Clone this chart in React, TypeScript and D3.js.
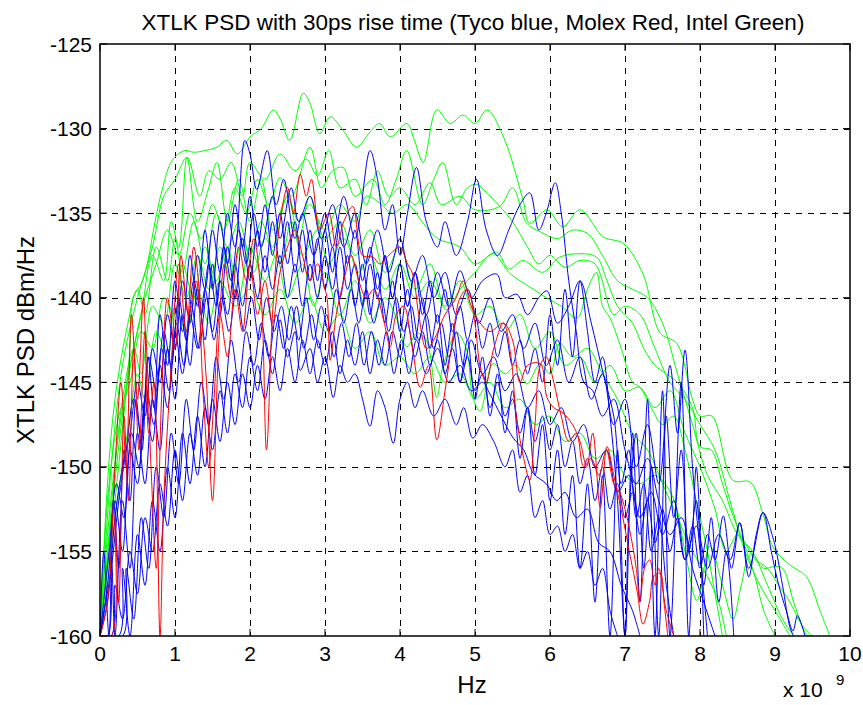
import React from "react";
import * as d3 from "d3";

const TITLE = "XTLK PSD with 30ps rise time (Tyco blue, Molex Red, Intel Green)";
const X_LABEL = "Hz";
const Y_LABEL = "XTLK PSD dBm/Hz";
const X_TICKS = [0, 1, 2, 3, 4, 5, 6, 7, 8, 9, 10];
const Y_TICKS = [-160, -155, -150, -145, -140, -135, -130, -125];

type P = [number, number];

// Intel (green)
const green1: P[] = [[0,-160],[0.2,-152],[0.4,-143],[0.44,-140],[0.56,-139.1],[0.64,-137.8],[0.73,-135.6],[0.83,-133.6],[0.96,-131.9],[1.13,-131.3],[1.25,-131.4],[1.4,-131.3],[1.56,-131.1],[1.69,-130.7],[1.83,-131.5],[2.0,-130.5],[2.15,-130.0],[2.31,-128.9],[2.4,-129.4],[2.53,-130.7],[2.71,-127.9],[2.8,-128.5],[2.93,-130.3],[3.07,-129.3],[3.24,-130.1],[3.42,-131.1],[3.6,-130.2],[3.73,-129.7],[3.87,-130.5],[4.09,-129.7],[4.2,-130.8],[4.31,-132.0],[4.49,-128.9],[4.67,-129.7],[4.84,-129.2],[5.0,-129.7],[5.16,-128.9],[5.38,-130.5],[5.64,-134.2],[5.73,-135.6],[5.96,-134.8],[6.17,-135.8],[6.4,-134.8],[6.71,-136.4],[6.98,-136.8],[7.24,-138.6],[7.47,-142.1],[7.69,-142.7],[7.9,-146],[8.0,-147],[8.16,-147],[8.44,-150.8],[8.67,-150.9],[8.84,-152.8],[8.98,-154.8],[9.2,-155.8],[9.42,-156.5],[9.6,-158.5],[9.73,-160]];
const green2: P[] = [[0,-160],[0.15,-150],[0.3,-144],[0.5,-140],[0.7,-137],[0.85,-134],[1.0,-133],[1.16,-131.7],[1.33,-134],[1.45,-132.5],[1.6,-133],[1.75,-132],[1.9,-134],[2.0,-132],[2.2,-133],[2.4,-131.5],[2.6,-132.5],[2.75,-131.8],[2.9,-132.8],[3.05,-131.3],[3.2,-133.5],[3.4,-133],[3.55,-134.5],[3.7,-132.5],[3.85,-134],[4.0,-133.5],[4.2,-134.5],[4.4,-133.2],[4.55,-134.5],[4.8,-134],[5.0,-134.8],[5.33,-134.6],[5.5,-133.5],[5.69,-135.6],[5.87,-136.1],[6.1,-136.5],[6.3,-136],[6.5,-136.2],[6.7,-137.5],[6.9,-139],[7.1,-139.5],[7.3,-140],[7.5,-141.5],[7.7,-144.5],[7.9,-147.5],[8.1,-150.5],[8.3,-152],[8.5,-154],[8.7,-155],[8.9,-157],[9.1,-159],[9.25,-160]];
const green3: P[] = [[0,-160],[0.1,-152],[0.25,-147],[0.4,-145],[0.55,-142],[0.7,-143],[0.85,-140],[1.0,-141],[1.1,-138],[1.25,-140],[1.4,-137],[1.55,-139],[1.7,-137],[1.85,-140],[2.0,-137],[2.2,-139],[2.35,-137.5],[2.5,-140],[2.7,-138],[2.85,-140.5],[3.0,-138.5],[3.2,-141],[3.4,-139],[3.6,-141.5],[3.8,-140],[3.96,-141.3],[4.09,-142.9],[4.23,-142.1],[4.35,-142.5],[4.49,-145.9],[4.57,-144.1],[4.76,-142.1],[4.89,-143.1],[4.97,-145.9],[5.07,-146.7],[5.24,-143.9],[5.4,-144.5],[5.55,-144],[5.69,-145.1],[5.87,-143.9],[6.0,-144.5],[6.13,-142.7],[6.3,-143.5],[6.5,-143],[6.7,-144.5],[6.9,-146],[7.1,-148],[7.3,-149],[7.5,-151],[7.7,-153],[7.9,-155],[8.1,-156.5],[8.25,-158],[8.35,-160]];
const green4: P[] = [[0,-160],[0.15,-153],[0.3,-147],[0.45,-143],[0.6,-140],[0.75,-138],[0.9,-136],[1.05,-137.5],[1.2,-135],[1.35,-136.5],[1.5,-134.5],[1.65,-136],[1.8,-133.5],[1.95,-135],[2.1,-133],[2.25,-134.5],[2.4,-132.9],[2.55,-134],[2.8,-131.1],[2.95,-133.5],[3.1,-132.5],[3.24,-132.3],[3.4,-134],[3.64,-133],[3.8,-134.5],[3.95,-133],[4.09,-131.3],[4.3,-134.5],[4.45,-133],[4.57,-132],[4.75,-134.5],[4.9,-133.5],[5.02,-133.3],[5.2,-134],[5.33,-134.6],[5.5,-135.5],[5.7,-137],[5.85,-138],[6.0,-137.5],[6.2,-138.2],[6.4,-137.8],[6.6,-138],[6.85,-141],[7.0,-140.5],[7.2,-141],[7.4,-143],[7.6,-145],[7.8,-146],[8.0,-147.5],[8.2,-149],[8.4,-152],[8.6,-155],[8.8,-157],[9.0,-158.5],[9.2,-160]];
const green5: P[] = [[0,-160],[0.1,-154],[0.25,-148],[0.4,-144],[0.55,-141],[0.7,-137.5],[0.85,-139],[0.95,-135.5],[1.05,-137],[1.16,-131.7],[1.3,-135.5],[1.45,-133.5],[1.56,-132],[1.7,-135.5],[1.85,-133],[2.0,-135.5],[2.15,-133],[2.3,-136],[2.5,-134],[2.65,-136.5],[2.8,-134],[3.0,-136.5],[3.2,-135.5],[3.4,-137.5],[3.6,-136],[3.8,-138.5],[4.0,-137],[4.2,-139.5],[4.4,-138],[4.6,-140.5],[4.8,-139],[5.0,-141],[5.2,-140.5],[5.4,-142],[5.6,-141],[5.8,-143],[6.0,-142],[6.2,-144],[6.4,-143.5],[6.6,-145],[6.8,-144],[7.0,-145.5],[7.2,-145.3],[7.4,-146.5],[7.6,-145.5],[7.8,-148],[8.0,-150],[8.2,-152.5],[8.35,-155],[8.5,-154],[8.7,-156],[8.85,-158.5],[9.0,-160]];
const green6: P[] = [[0,-160],[0.1,-151],[0.2,-146],[0.35,-142],[0.5,-139.5],[0.6,-141],[0.75,-137],[0.9,-139],[1.0,-136.5],[1.1,-138.5],[1.25,-135.5],[1.4,-138],[1.55,-135],[1.7,-137],[1.85,-135.5],[2.0,-137.5],[2.15,-135.5],[2.3,-137],[2.5,-134],[2.65,-135.5],[2.8,-134.5],[3.0,-136],[3.2,-134.5],[3.4,-135.5],[3.55,-134],[3.73,-134.4],[3.9,-135],[4.1,-134.5],[4.31,-135.6],[4.5,-136.5],[4.8,-137],[5.0,-138],[5.29,-137.3],[5.45,-138.3],[5.64,-137.8],[5.9,-138.5],[6.13,-137.6],[6.4,-137.4],[6.62,-137.6],[6.76,-139],[6.9,-140.5],[7.1,-141.5],[7.25,-143],[7.4,-144],[7.55,-144.5],[7.7,-145],[7.9,-146.5],[8.0,-148.8],[8.15,-149],[8.3,-151],[8.45,-153],[8.6,-154.5],[8.75,-155.5],[8.9,-156],[9.05,-157],[9.2,-158],[9.35,-159.3],[9.5,-160]];
const green7: P[] = [[0,-160],[0.1,-155],[0.2,-150],[0.3,-146],[0.45,-143],[0.55,-144.5],[0.7,-140.5],[0.85,-141.5],[1.0,-138],[1.15,-140],[1.3,-137.5],[1.45,-139.5],[1.6,-137],[1.75,-139],[1.9,-136.5],[2.05,-138.5],[2.2,-136.5],[2.4,-138],[2.55,-135.5],[2.7,-137.5],[2.9,-136],[3.05,-138],[3.25,-136.5],[3.45,-138.5],[3.6,-137.5],[3.8,-139.5],[4.0,-138],[4.2,-140],[4.4,-139],[4.62,-140.7],[4.8,-139.5],[5.0,-138.5],[5.24,-137.4],[5.45,-138.5],[5.6,-139],[5.78,-139.5],[5.95,-140],[6.15,-140.5],[6.36,-141.2],[6.5,-139.5],[6.62,-138.5],[6.7,-140.5],[6.8,-141.2],[6.95,-143],[7.1,-145],[7.2,-145.3],[7.35,-146.5],[7.5,-147.5],[7.65,-147],[7.8,-149],[7.95,-152],[8.1,-155],[8.2,-157.5],[8.3,-160]];
const green8: P[] = [[0,-160],[0.1,-157],[0.2,-153],[0.3,-150],[0.4,-147],[0.5,-144.5],[0.6,-146],[0.75,-142],[0.9,-143.5],[1.0,-140.5],[1.15,-142],[1.3,-139.5],[1.45,-141.5],[1.6,-139],[1.8,-140.5],[2.0,-139.5],[2.2,-141],[2.4,-139.5],[2.6,-141.5],[2.8,-140],[3.0,-142],[3.2,-141],[3.4,-143],[3.6,-142],[3.8,-144],[4.0,-143.5],[4.2,-144.5],[4.4,-143.5],[4.6,-145],[4.8,-144.5],[5.0,-146],[5.2,-145],[5.4,-146.5],[5.6,-146],[5.8,-147.5],[6.0,-147],[6.2,-148.5],[6.4,-148],[6.6,-149.5],[6.8,-149],[7.0,-150.5],[7.2,-151],[7.4,-150.5],[7.64,-151.8],[7.8,-155],[7.96,-157.9],[8.13,-154.7],[8.3,-157],[8.44,-159],[8.55,-157],[8.67,-155.2],[8.85,-156],[8.98,-155.9],[9.1,-156],[9.25,-158],[9.42,-159.9],[9.5,-160]];

// Tyco (blue)
const blue1: P[] = [[0,-160],[0.1,-158],[0.2,-153],[0.3,-150],[0.4,-148],[0.5,-145],[0.6,-147],[0.7,-143],[0.8,-145],[0.9,-141],[1.0,-143],[1.1,-139],[1.2,-141.5],[1.3,-137.5],[1.4,-139.5],[1.5,-136],[1.6,-138.5],[1.7,-135],[1.8,-137],[1.93,-130.7],[2.0,-131.5],[2.09,-133.6],[2.23,-131.3],[2.35,-134.5],[2.45,-133],[2.6,-136.5],[2.7,-135],[2.85,-137.5],[3.0,-135],[3.1,-137],[3.25,-134],[3.4,-136.5],[3.6,-131.3],[3.7,-133],[3.8,-136],[3.9,-134.5],[4.0,-137.5],[4.1,-135],[4.22,-132.3],[4.35,-135.5],[4.5,-137],[4.6,-135.5],[4.75,-137.5],[4.9,-135.5],[5.02,-133],[5.15,-136],[5.3,-137.5],[5.45,-136],[5.6,-134.5],[5.73,-133.8],[5.85,-136],[5.95,-135],[6.07,-133.2],[6.15,-135],[6.25,-139],[6.35,-142],[6.45,-145],[6.57,-145.5],[6.7,-147],[6.85,-146],[7.0,-149],[7.15,-151],[7.3,-149.5],[7.45,-152],[7.6,-154],[7.75,-153],[7.9,-156],[8.05,-158],[8.2,-160]];
const blue2: P[] = [[0,-160],[0.15,-156],[0.25,-152],[0.35,-149],[0.45,-146],[0.55,-148],[0.65,-143.5],[0.75,-145.5],[0.85,-142],[0.95,-144],[1.05,-140],[1.15,-142.5],[1.25,-139],[1.35,-141],[1.45,-138],[1.55,-140.5],[1.65,-137],[1.75,-139],[1.85,-136],[1.95,-138],[2.05,-135],[2.15,-137],[2.3,-134],[2.4,-136.5],[2.55,-133.5],[2.65,-135.5],[2.8,-134],[2.95,-136.5],[3.1,-134.5],[3.25,-137],[3.4,-135],[3.55,-138],[3.7,-136],[3.85,-138.5],[4.0,-136.5],[4.15,-139],[4.3,-137.5],[4.45,-140],[4.6,-138.5],[4.75,-141],[4.9,-139.5],[5.05,-141.5],[5.2,-140],[5.35,-142],[5.5,-141],[5.65,-143],[5.8,-141.5],[5.95,-144],[6.1,-142.5],[6.25,-145],[6.4,-143.5],[6.55,-146],[6.7,-144.5],[6.85,-147.5],[7.0,-146],[7.15,-150],[7.3,-147.5],[7.45,-151],[7.6,-144],[7.7,-148],[7.8,-143.1],[7.9,-150],[8.0,-155],[8.1,-160]];
const blue3: P[] = [[0,-160],[0.1,-157],[0.2,-152],[0.3,-155],[0.4,-149],[0.5,-151],[0.6,-146],[0.7,-148.5],[0.8,-144],[0.9,-146.5],[1.0,-142],[1.1,-144.5],[1.2,-141],[1.3,-143],[1.4,-139.5],[1.5,-142],[1.6,-139],[1.7,-141],[1.8,-138],[1.9,-140.5],[2.0,-138],[2.1,-140],[2.2,-137.5],[2.3,-139.5],[2.4,-137.5],[2.5,-140],[2.6,-138],[2.7,-140.5],[2.8,-138],[2.9,-140],[3.0,-137.5],[3.1,-139.5],[3.2,-137],[3.3,-139.5],[3.4,-138],[3.5,-140.5],[3.6,-138],[3.7,-140],[3.8,-137.5],[3.9,-140],[4.0,-138],[4.1,-140.5],[4.2,-138.5],[4.35,-141],[4.5,-138.5],[4.65,-140.5],[4.8,-138.4],[4.95,-140],[5.1,-139],[5.29,-138.6],[5.4,-140],[5.56,-139.8],[5.7,-141],[5.85,-140],[5.96,-139.6],[6.1,-141.5],[6.25,-140.5],[6.4,-139],[6.55,-141.5],[6.71,-144.5],[6.85,-147],[6.95,-151],[7.05,-149],[7.15,-153],[7.25,-151],[7.35,-155],[7.45,-153],[7.55,-157],[7.65,-160]];
const blue4: P[] = [[0,-160],[0.15,-160],[0.2,-157],[0.3,-159],[0.4,-155],[0.5,-157.5],[0.6,-153],[0.7,-155],[0.8,-151],[0.9,-153.5],[1.0,-149],[1.1,-152],[1.2,-148],[1.3,-150.5],[1.4,-146.5],[1.5,-149],[1.6,-145.5],[1.7,-148],[1.8,-144.5],[1.9,-146.5],[2.0,-143.5],[2.1,-145.5],[2.2,-142.5],[2.3,-144.5],[2.4,-141.3],[2.5,-143.5],[2.6,-142],[2.67,-144.3],[2.8,-143],[2.9,-145],[3.0,-143.5],[3.11,-145.9],[3.2,-144],[3.3,-145],[3.4,-144.5],[3.5,-146],[3.6,-147.6],[3.7,-145.5],[3.8,-146.5],[3.91,-148.6],[4.0,-146],[4.1,-145],[4.2,-146.5],[4.3,-145.5],[4.45,-147],[4.6,-146],[4.75,-147.5],[4.85,-146.5],[4.97,-148.3],[5.1,-147.5],[5.25,-148.5],[5.4,-150],[5.5,-149],[5.6,-151.5],[5.7,-150.5],[5.8,-153],[5.9,-152],[6.0,-154],[6.1,-153.5],[6.2,-155],[6.3,-154],[6.4,-156],[6.5,-155],[6.6,-157],[6.7,-156],[6.8,-158.5],[6.9,-160]];
const blue5: P[] = [[0,-160],[0.12,-155],[0.22,-151],[0.32,-153],[0.42,-148],[0.52,-150],[0.62,-145.5],[0.72,-147.5],[0.82,-143],[0.92,-145.5],[1.02,-141.5],[1.12,-144],[1.22,-140.5],[1.32,-143],[1.42,-140],[1.52,-142.5],[1.62,-140],[1.72,-142],[1.82,-139.5],[1.92,-142],[2.02,-140],[2.12,-142.5],[2.22,-140],[2.32,-142],[2.42,-140.5],[2.52,-142.5],[2.62,-140.5],[2.72,-143],[2.82,-141],[2.92,-143],[3.02,-141],[3.12,-143.5],[3.22,-141.5],[3.32,-143.5],[3.42,-141.5],[3.52,-144],[3.62,-142],[3.72,-144],[3.82,-142],[3.92,-144.5],[4.02,-142.5],[4.12,-144.5],[4.22,-142.5],[4.35,-144.5],[4.5,-143],[4.65,-145],[4.8,-144],[4.95,-145.5],[5.1,-145],[5.2,-145.7],[5.35,-147],[5.51,-148.3],[5.65,-149],[5.78,-150.4],[5.95,-151],[6.09,-152],[6.2,-151.5],[6.35,-153],[6.5,-152.5],[6.65,-154.5],[6.8,-155],[6.95,-157],[7.1,-158.5],[7.2,-160]];
const blue6: P[] = [[0,-160],[0.3,-160],[0.35,-156],[0.45,-159],[0.55,-153],[0.65,-156],[0.75,-150],[0.85,-153],[0.95,-148],[1.05,-151],[1.15,-146],[1.25,-149],[1.35,-145],[1.45,-147.5],[1.55,-143.5],[1.65,-146],[1.75,-142.5],[1.85,-145],[1.95,-142],[2.05,-144],[2.15,-141.5],[2.25,-143.5],[2.35,-141],[2.45,-143],[2.55,-140.5],[2.65,-142.5],[2.75,-140],[2.85,-142.5],[2.95,-140.5],[3.05,-142],[3.15,-139.5],[3.25,-141.5],[3.35,-139.5],[3.45,-141.5],[3.55,-139.5],[3.65,-141.5],[3.75,-140],[3.85,-142],[3.95,-140],[4.05,-142],[4.15,-140.5],[4.25,-142.5],[4.35,-141],[4.45,-143],[4.55,-141.5],[4.65,-143.5],[4.75,-142],[4.85,-144],[4.95,-142.5],[5.1,-144.5],[5.25,-143.5],[5.4,-145.5],[5.55,-144.5],[5.7,-146.5],[5.85,-145.5],[6.0,-147.5],[6.15,-146.5],[6.3,-148.5],[6.45,-147.5],[6.6,-150],[6.75,-149],[6.9,-151.5],[7.05,-150.5],[7.2,-153],[7.35,-151.5],[7.5,-154],[7.65,-152],[7.8,-155.5],[7.95,-153.5],[8.1,-156],[8.25,-154],[8.4,-155.5],[8.53,-153.3],[8.65,-156],[8.84,-152.7],[8.95,-155],[9.05,-157],[9.15,-158.5],[9.24,-159.7],[9.3,-158.8],[9.4,-160]];
const blue7: P[] = [[0,-160],[0.1,-160],[0.15,-155],[0.2,-160],[0.3,-152],[0.4,-156],[0.5,-148],[0.6,-151],[0.7,-146],[0.8,-149],[0.9,-143],[1.0,-146],[1.1,-141],[1.2,-144],[1.3,-139.5],[1.4,-142.5],[1.5,-138],[1.6,-141],[1.7,-137],[1.8,-140],[1.9,-136.5],[2.0,-139],[2.1,-136],[2.2,-138.5],[2.3,-135.5],[2.4,-138],[2.5,-135.5],[2.6,-138.5],[2.7,-136],[2.8,-139],[2.9,-136.5],[3.0,-139.5],[3.1,-137],[3.2,-140],[3.3,-137.5],[3.4,-140.5],[3.5,-138],[3.6,-141],[3.7,-138.5],[3.8,-141.5],[3.9,-139],[4.0,-142],[4.1,-139.5],[4.2,-142.5],[4.3,-140],[4.4,-143],[4.5,-141],[4.6,-144],[4.7,-141.5],[4.8,-145],[4.9,-142.5],[5.0,-146],[5.1,-143.5],[5.2,-147],[5.3,-144.5],[5.4,-148],[5.5,-145.5],[5.6,-149.5],[5.7,-146.5],[5.8,-150.5],[5.9,-147.5],[6.0,-152],[6.1,-149],[6.2,-154],[6.3,-150.5],[6.4,-156],[6.5,-151],[6.6,-158],[6.7,-150.5],[6.8,-160],[6.9,-149],[7.0,-160],[7.1,-148],[7.2,-158],[7.3,-146],[7.4,-160],[7.5,-145.5],[7.6,-160],[7.75,-145],[7.85,-160],[7.95,-150],[8.05,-160]];
const blue8: P[] = [[0,-160],[0.05,-155],[0.12,-160],[0.18,-152],[0.25,-156],[0.32,-149],[0.4,-152],[0.48,-146],[0.56,-149],[0.64,-143.5],[0.72,-146.5],[0.8,-141],[0.9,-144],[1.0,-139],[1.1,-142],[1.2,-137.5],[1.3,-140.5],[1.4,-136],[1.5,-139.5],[1.6,-135.5],[1.7,-138],[1.8,-134.5],[1.9,-137],[2.0,-134],[2.1,-137],[2.2,-134.5],[2.3,-137.5],[2.4,-135],[2.5,-138],[2.6,-135.5],[2.7,-138.5],[2.8,-136],[2.9,-139],[3.0,-136],[3.1,-138.5],[3.2,-135.5],[3.3,-138],[3.4,-136],[3.5,-139],[3.6,-137],[3.7,-139.5],[3.8,-137.5],[3.9,-140],[4.0,-138],[4.1,-140.5],[4.2,-138.5],[4.3,-141],[4.4,-139],[4.5,-141.5],[4.6,-139.5],[4.7,-142],[4.8,-140.5],[4.9,-142.5],[5.0,-141],[5.1,-143],[5.2,-141.5],[5.3,-143.5],[5.4,-142],[5.5,-144],[5.6,-142.5],[5.7,-144.5],[5.8,-143],[5.9,-145],[6.0,-141],[6.1,-144],[6.2,-139.5],[6.3,-143.5],[6.4,-139],[6.5,-142],[6.6,-145],[6.7,-143.5],[6.8,-147],[6.9,-152],[7.0,-160],[7.05,-153],[7.15,-148],[7.25,-156],[7.35,-150],[7.45,-160],[7.55,-147],[7.65,-153],[7.75,-149],[7.85,-155],[7.95,-152],[8.05,-157],[8.15,-153],[8.25,-158],[8.35,-155],[8.45,-160]];
const blue9: P[] = [[0,-160],[0.25,-160],[0.3,-156],[0.4,-160],[0.5,-154],[0.6,-157],[0.7,-152],[0.8,-155],[0.9,-150],[1.0,-153],[1.1,-148],[1.2,-151],[1.3,-147],[1.4,-150],[1.5,-146],[1.6,-148.5],[1.7,-145],[1.8,-147.5],[1.9,-144.5],[2.0,-146.5],[2.1,-144],[2.2,-146],[2.3,-143.5],[2.4,-145.5],[2.5,-143],[2.6,-145],[2.7,-142.5],[2.8,-144.5],[2.9,-142.5],[3.0,-144],[3.1,-142],[3.2,-144.5],[3.3,-142.5],[3.4,-144],[3.5,-142],[3.6,-144.5],[3.7,-142.5],[3.8,-144],[3.9,-142],[4.0,-143.5],[4.1,-141.5],[4.2,-143.5],[4.3,-142],[4.4,-144],[4.5,-142.5],[4.6,-144.5],[4.7,-143],[4.8,-145],[4.9,-143.5],[5.0,-145.5],[5.1,-144.5],[5.2,-146.5],[5.3,-145],[5.4,-147],[5.5,-146],[5.6,-148],[5.7,-146.5],[5.8,-148.5],[5.9,-147],[6.0,-149],[6.1,-147.5],[6.2,-150],[6.3,-148.5],[6.4,-151],[6.5,-149.5],[6.6,-152],[6.7,-150],[6.8,-152.5],[6.9,-151],[7.0,-153],[7.1,-151.5],[7.2,-154],[7.3,-152],[7.4,-154.5],[7.5,-152.5],[7.6,-155],[7.7,-153],[7.8,-155.5],[7.9,-153.5],[8.0,-156],[8.1,-154],[8.2,-155.5],[8.31,-152.9],[8.42,-156],[8.53,-153.3],[8.65,-156.5],[8.75,-154],[8.84,-152.7],[8.98,-154.3],[9.1,-157],[9.2,-159.5],[9.25,-160]];

// Molex (red)
const red1: P[] = [[0,-160],[0.1,-158],[0.2,-150],[0.28,-145],[0.35,-150],[0.42,-141],[0.5,-146],[0.58,-140],[0.65,-148],[0.72,-145],[0.8,-160],[0.85,-152],[0.95,-144],[1.05,-138],[1.15,-142],[1.25,-137],[1.35,-141],[1.42,-145],[1.5,-152],[1.58,-143],[1.66,-138],[1.75,-140],[1.85,-137],[1.95,-139],[2.05,-136.5],[2.15,-140],[2.22,-149],[2.3,-141],[2.4,-135.5],[2.5,-133.5],[2.58,-135],[2.67,-132.7],[2.75,-134],[2.82,-133],[2.93,-136],[3.05,-135],[3.15,-137],[3.25,-135.5],[3.37,-134.6],[3.5,-137.5],[3.64,-137.6],[3.73,-138],[3.85,-137.5],[4.0,-137],[4.1,-138],[4.17,-138.6],[4.25,-141],[4.35,-143],[4.45,-142.5],[4.6,-141],[4.75,-140],[4.84,-139],[4.95,-140.5],[5.07,-141.5],[5.2,-142],[5.38,-141.5],[5.5,-142.5],[5.6,-145],[5.7,-144],[5.87,-143.9],[5.96,-145.9],[6.05,-146.5],[6.17,-146.8],[6.3,-147.5],[6.4,-148.5],[6.49,-150],[6.57,-148],[6.67,-152.4],[6.76,-148.8],[6.85,-150.5],[6.98,-153.2],[7.07,-155.3],[7.16,-157.3],[7.24,-159.3],[7.33,-157.9],[7.38,-156.5],[7.47,-156.3],[7.52,-158],[7.57,-160]];
const red2: P[] = [[0,-160],[0.15,-160],[0.2,-153],[0.25,-158],[0.32,-147],[0.38,-152],[0.45,-143],[0.52,-149],[0.6,-142],[0.68,-150],[0.75,-156],[0.82,-146],[0.9,-140],[1.0,-143],[1.08,-137.5],[1.18,-141],[1.28,-139],[1.38,-146],[1.45,-150],[1.52,-146],[1.6,-141],[1.7,-143.5],[1.8,-139.5],[1.9,-142],[2.0,-138],[2.1,-141],[2.2,-139],[2.3,-141.5],[2.4,-138.5],[2.5,-137],[2.6,-136],[2.7,-137.5],[2.8,-139],[2.9,-138],[3.0,-139.5],[3.03,-140.1],[3.07,-143.7],[3.15,-141],[3.25,-139],[3.35,-137.5],[3.45,-139],[3.55,-140],[3.65,-139.5],[3.78,-141.3],[3.87,-142.9],[3.95,-141],[4.05,-140.5],[4.15,-142.5],[4.27,-145.3],[4.38,-144],[4.49,-148.4],[4.6,-145.5],[4.7,-142.5],[4.8,-140],[4.9,-139.5],[5.0,-141.5],[5.07,-144.1],[5.15,-145],[5.25,-143],[5.38,-141.5],[5.48,-143.5],[5.55,-147],[5.65,-149.5],[5.73,-150.8],[5.8,-147.5],[5.87,-144],[5.95,-143.5],[6.05,-145],[6.15,-147],[6.25,-148.5],[6.35,-148],[6.45,-150],[6.55,-149.5],[6.65,-150.5],[6.75,-149],[6.85,-151],[6.93,-151.5],[7.0,-152.5],[7.07,-153.9],[7.15,-156],[7.2,-157.9],[7.26,-156],[7.33,-155.5],[7.4,-157],[7.45,-156],[7.55,-158.5],[7.65,-160]];

const GREENS = [green1, green2, green3, green4, green5, green6, green7, green8];
const BLUES = [blue1, blue2, blue3, blue4, blue5, blue6, blue7, blue8, blue9];
const REDS = [red1, red2];

const W = 863, H = 705;
const L = 100, R = 850, T = 44, B = 636;
const FONT = "'Liberation Sans', Arial, sans-serif";

export default function App() {
  const x = d3.scaleLinear().domain([0, 10]).range([L, R]);
  const y = d3.scaleLinear().domain([-160, -125]).range([B, T]);
  const line = d3.line<P>().x(d => x(d[0])).y(d => y(d[1])).curve(d3.curveCatmullRom.alpha(0.5));
  const tick = 7;
  return (
    <svg width={W} height={H} style={{ position: "absolute", left: 0, top: 0, background: "#fff" }} fontFamily={FONT}>
      <defs>
        <clipPath id="plot"><rect x={L} y={T} width={R - L} height={B - T} /></clipPath>
      </defs>
      <rect x={0} y={0} width={W} height={H} fill="#fff" />
      <g stroke="#000" strokeWidth={1} strokeDasharray="6,6">
        {X_TICKS.slice(1, -1).map(t => <line key={"gx" + t} x1={Math.round(x(t)) + 0.5} x2={Math.round(x(t)) + 0.5} y1={T} y2={B} />)}
        {Y_TICKS.slice(1, -1).map(t => <line key={"gy" + t} x1={L} x2={R} y1={Math.round(y(t)) + 0.5} y2={Math.round(y(t)) + 0.5} />)}
      </g>
      <g clipPath="url(#plot)" fill="none" strokeWidth={1} strokeLinejoin="round">
        {GREENS.map((s, i) => <path key={"g" + i} d={line(s) || ""} stroke="#00ff00" />)}
        {BLUES.map((s, i) => <path key={"b" + i} d={line(s) || ""} stroke="#0000ff" />)}
        {REDS.map((s, i) => <path key={"r" + i} d={line(s) || ""} stroke="#ff0000" />)}
      </g>
      <g stroke="#000" strokeWidth={1}>
        {X_TICKS.map(t => (
          <g key={"tx" + t}>
            <line x1={x(t)} x2={x(t)} y1={B} y2={B - tick} />
            <line x1={x(t)} x2={x(t)} y1={T} y2={T + tick} />
          </g>
        ))}
        {Y_TICKS.map(t => (
          <g key={"ty" + t}>
            <line x1={L} x2={L + tick} y1={y(t)} y2={y(t)} />
            <line x1={R} x2={R - tick} y1={y(t)} y2={y(t)} />
          </g>
        ))}
      </g>
      <rect x={L} y={T} width={R - L} height={B - T} fill="none" stroke="#000" strokeWidth={1.5} />
      <g fill="#000">
        {X_TICKS.map(t => <text key={"lx" + t} x={x(t)} y={B + 25} textAnchor="middle" fontSize={21}>{t}</text>)}
        {Y_TICKS.map(t => <text key={"ly" + t} x={L - 8} y={y(t) + 7.5} textAnchor="end" fontSize={21}>{t}</text>)}
        <text x={472} y={B + 57} textAnchor="middle" fontSize={24}>{X_LABEL}</text>
        <text x={783} y={B + 61} fontSize={21}>x 10</text>
        <text x={836} y={B + 49} fontSize={15}>9</text>
        <text x={473} y={30} textAnchor="middle" fontSize={22.5}>{TITLE}</text>
        <text transform={`translate(34,${(T + B) / 2}) rotate(-90)`} textAnchor="middle" fontSize={24}>{Y_LABEL}</text>
      </g>
    </svg>
  );
}
